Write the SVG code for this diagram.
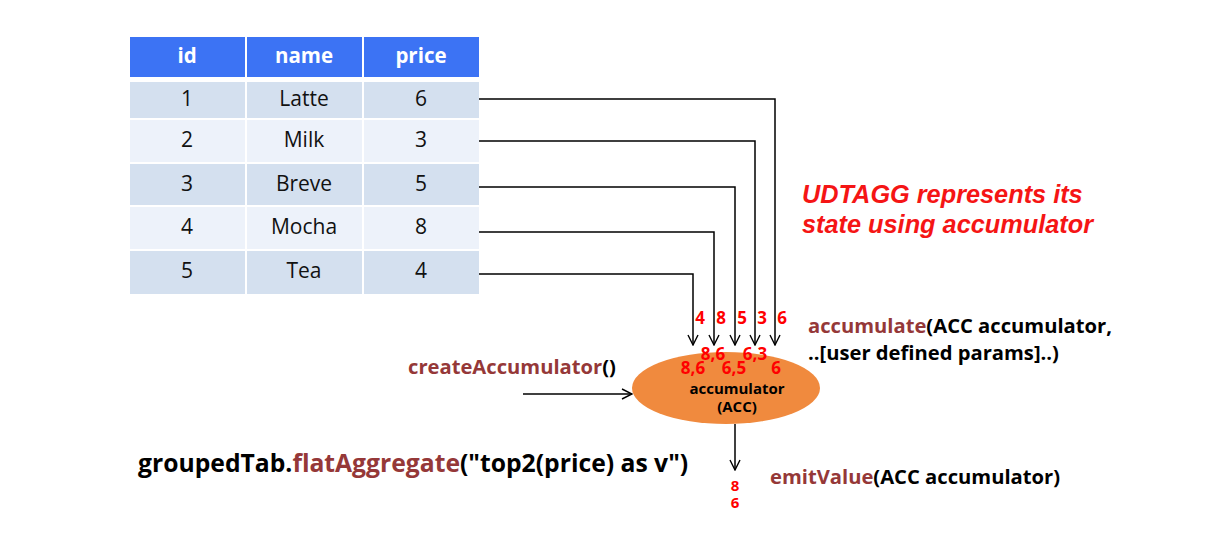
<svg xmlns="http://www.w3.org/2000/svg" width="1226" height="539" viewBox="0 0 1226 539">
<defs>
<style>
.hdr{fill:#3C73F4}
.odd{fill:#D4E0EF}
.even{fill:#EDF2FA}
.ht{font-family:"Open Sans","Noto Sans",sans-serif;font-weight:bold;font-size:20.5px;fill:#fff;text-anchor:middle}
.ct{font-family:"Open Sans","Noto Sans",sans-serif;font-size:21px;fill:#111;text-anchor:middle}
.conn{fill:none;stroke:#000;stroke-width:1.5}
.num{font-family:"Open Sans","Noto Sans",sans-serif;font-weight:bold;font-size:17px;fill:#F00;text-anchor:middle}
.sm{font-size:15px}
.code{font-family:"Open Sans","Noto Sans",sans-serif;font-weight:bold;font-size:20.2px;fill:#000}
.acc{font-family:"Open Sans","Noto Sans",sans-serif;font-weight:bold;font-size:15px;fill:#000;text-anchor:middle}
.big{font-size:24.7px}
.fn{fill:#953838}
.note{font-family:"Liberation Sans",Arial,sans-serif;font-weight:bold;font-style:italic;font-size:25.3px;fill:#F51515}
</style>
<marker id="arr" viewBox="0 0 12 12" refX="11" refY="6" markerWidth="12" markerHeight="12" markerUnits="userSpaceOnUse" orient="auto">
<path d="M1,1 L11,6 L1,11" fill="none" stroke="#000" stroke-width="1.4"/>
</marker>
</defs>
<rect width="1226" height="539" fill="#fff"/>

<g id="table">
<rect class="hdr" x="130" y="37" width="115" height="40"/>
<rect class="hdr" x="247" y="37" width="115" height="40"/>
<rect class="hdr" x="364" y="37" width="115" height="40"/>
<text class="ht" x="187" y="63">id</text>
<text class="ht" x="304" y="63">name</text>
<text class="ht" x="421" y="63">price</text>

<rect class="odd" x="130" y="82" width="115" height="36"/>
<rect class="odd" x="247" y="82" width="115" height="36"/>
<rect class="odd" x="364" y="82" width="115" height="36"/>
<rect class="even" x="130" y="120" width="115" height="42"/>
<rect class="even" x="247" y="120" width="115" height="42"/>
<rect class="even" x="364" y="120" width="115" height="42"/>
<rect class="odd" x="130" y="164" width="115" height="41"/>
<rect class="odd" x="247" y="164" width="115" height="41"/>
<rect class="odd" x="364" y="164" width="115" height="41"/>
<rect class="even" x="130" y="207" width="115" height="42"/>
<rect class="even" x="247" y="207" width="115" height="42"/>
<rect class="even" x="364" y="207" width="115" height="42"/>
<rect class="odd" x="130" y="251" width="115" height="43"/>
<rect class="odd" x="247" y="251" width="115" height="43"/>
<rect class="odd" x="364" y="251" width="115" height="43"/>

<text class="ct" x="187" y="106">1</text><text class="ct" x="304" y="106">Latte</text><text class="ct" x="421" y="106">6</text>
<text class="ct" x="187" y="147">2</text><text class="ct" x="304" y="147">Milk</text><text class="ct" x="421" y="147">3</text>
<text class="ct" x="187" y="191">3</text><text class="ct" x="304" y="191">Breve</text><text class="ct" x="421" y="191">5</text>
<text class="ct" x="187" y="234">4</text><text class="ct" x="304" y="234">Mocha</text><text class="ct" x="421" y="234">8</text>
<text class="ct" x="187" y="278">5</text><text class="ct" x="304" y="278">Tea</text><text class="ct" x="421" y="278">4</text>
</g>

<g id="connectors">
<path class="conn" d="M479,99 H775 V345" marker-end="url(#arr)"/>
<path class="conn" d="M479,141 H755 V345" marker-end="url(#arr)"/>
<path class="conn" d="M479,187 H735 V345" marker-end="url(#arr)"/>
<path class="conn" d="M479,232 H714 V345" marker-end="url(#arr)"/>
<path class="conn" d="M479,274 H693 V345" marker-end="url(#arr)"/>
<path class="conn" d="M523,394 H632" marker-end="url(#arr)"/>
<path class="conn" d="M735,424 V470" marker-end="url(#arr)"/>
</g>

<g id="accumulator">
<ellipse cx="726" cy="388" rx="94" ry="36" fill="#F08A3E"/>
<text class="acc" x="737" y="394">accumulator</text>
<text class="acc" x="737" y="412">(ACC)</text>
</g>

<g id="values">
<text class="num" x="700" y="324">4</text>
<text class="num" x="721" y="324">8</text>
<text class="num" x="742" y="324">5</text>
<text class="num" x="762" y="324">3</text>
<text class="num" x="782" y="324">6</text>
<text class="num" x="713" y="360">8,6</text>
<text class="num" x="755" y="360">6,3</text>
<text class="num" x="693" y="374">8,6</text>
<text class="num" x="734" y="374">6,5</text>
<text class="num" x="776" y="374">6</text>
<text class="num sm" x="735" y="491">8</text>
<text class="num sm" x="735" y="508">6</text>
</g>

<g id="labels">
<text class="code" x="808" y="333"><tspan class="fn">accumulate</tspan>(ACC accumulator,</text>
<text class="code" x="808" y="360">..[user defined params]..)</text>
<text class="code" x="408" y="374"><tspan class="fn">createAccumulator</tspan>()</text>
<text class="code" x="770" y="484"><tspan class="fn">emitValue</tspan>(ACC accumulator)</text>
<text class="code big" x="138" y="472">groupedTab.<tspan class="fn">flatAggregate</tspan>("top2(price) as v")</text>
<text class="note" x="802" y="203">UDTAGG represents its</text>
<text class="note" x="802" y="233">state using accumulator</text>
</g>
</svg>
